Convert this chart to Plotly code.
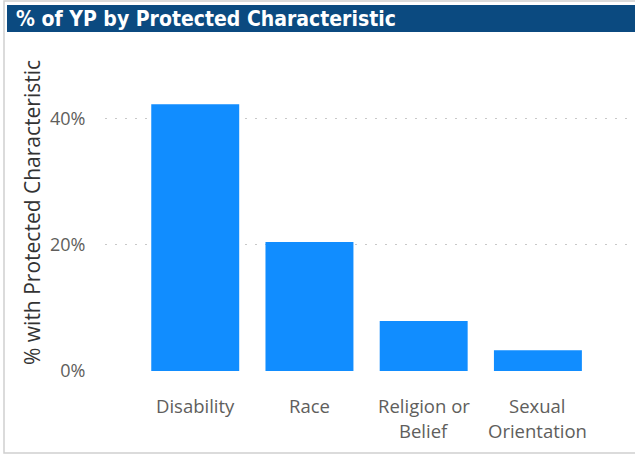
import plotly.graph_objects as go

categories = ["Disability", "Race", "Religion or\nBelief", "Sexual\nOrientation"]
values = [0.422, 0.204, 0.079, 0.033]
y_ticks = [0, 0.2, 0.4]
y_tick_labels = ["0%", "20%", "40%"]
title_text = "% of YP by Protected Characteristic"
y_title = "% with Protected Characteristic"

W, H = 635, 456
X0, X1 = 105, 635      # plot area pixel x
Y_TOP, Y_BOT = 55, 371  # plot area pixel y

def px(x):
    return x / W

def py(y):
    return 1 - y / H

fig = go.Figure()
fig.add_trace(go.Bar(
    x=list(range(len(categories))), y=values,
    marker=dict(color="#118DFF", line=dict(width=0)),
    width=0.77,
))

fig.update_layout(
    width=W, height=H,
    margin=dict(l=0, r=0, t=0, b=0),
    paper_bgcolor="white", plot_bgcolor="white",
    showlegend=False,
    font=dict(family="Open Sans", color="#605E5C"),
    xaxis=dict(domain=[px(X0), px(X1)], range=[-0.79, 3.85],
               showticklabels=False, showgrid=False, zeroline=False,
               showline=False, fixedrange=True),
    yaxis=dict(domain=[py(Y_BOT), py(Y_TOP)], range=[0, 0.5],
               tickvals=y_ticks, ticktext=y_tick_labels,
               tickfont=dict(size=18, color="#605E5C"),
               ticks="outside", ticklen=15, tickcolor="rgba(0,0,0,0)",
               showgrid=True, gridcolor="#C8C8C8", gridwidth=1.3,
               griddash="1.5px,8.5px", zeroline=False, showline=False,
               automargin=False),
)

# card border
fig.add_shape(type="rect", xref="paper", yref="paper",
              x0=px(4), x1=px(640), y0=py(453), y1=py(1),
              line=dict(color="#D0D0D0", width=1.5), fillcolor="rgba(0,0,0,0)")
# title bar
fig.add_shape(type="rect", xref="paper", yref="paper",
              x0=px(7), x1=px(640), y0=py(32), y1=py(5),
              line=dict(width=0), fillcolor="#0B4A80", layer="above")
fig.add_annotation(text="<b>" + title_text + "</b>", xref="paper", yref="paper",
                   x=px(14), y=py(18.5), xanchor="left", yanchor="middle",
                   showarrow=False,
                   font=dict(family="DejaVu Sans Condensed", size=21, color="white"))

# y axis title
fig.add_annotation(text=y_title, xref="paper", yref="paper",
                   x=px(32), y=py(213), xanchor="center", yanchor="middle",
                   textangle=-90, showarrow=False,
                   font=dict(family="Open Sans", size=21, color="#333333"))

# x category labels
for i, lab in enumerate(categories):
    for j, line in enumerate(lab.split("\n")):
        fig.add_annotation(text=line, xref="x", yref="paper",
                           x=i, y=py(405 + 25.5 * j), xanchor="center", yanchor="middle",
                           showarrow=False,
                           font=dict(family="Open Sans", size=18.5, color="#605E5C"))

fig.write_html("out.html")
